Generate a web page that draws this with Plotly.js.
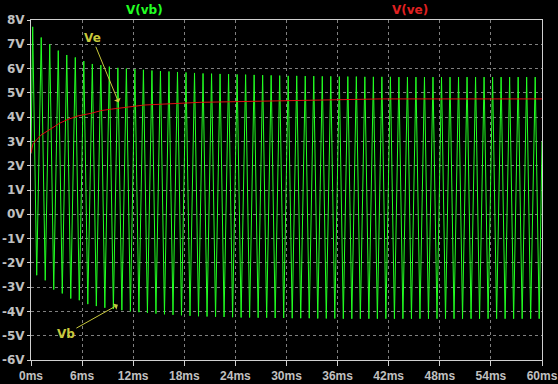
<!DOCTYPE html>
<html>
<head>
<meta charset="utf-8">
<script src="https://cdn.plot.ly/plotly-3.0.1.min.js"></script>
<style>html,body{margin:0;padding:0;background:#000;}#chart{width:558px;height:384px;}</style>
</head>
<body>
<div id="chart"></div>
<script>
// V(vb): per-cycle peaks and troughs (ms, V)
const vbStart = [0, 2.5];
const vbEnd = [60, 3.0];
const vbPeakTimes = [0.2,1.2,2.2,3.2,4.2,5.2,6.2,7.2,8.2,9.2,10.2,11.2,12.2,13.2,14.2,15.2,16.2,17.2,18.2,19.2,20.2,21.2,22.2,23.2,24.2,25.2,26.2,27.2,28.2,29.2,30.2,31.2,32.2,33.2,34.2,35.2,36.2,37.2,38.2,39.2,40.2,41.2,42.2,43.2,44.2,45.2,46.2,47.2,48.2,49.2,50.2,51.2,52.2,53.2,54.2,55.2,56.2,57.2,58.2,59.2];
const vbPeaks = [7.72,7.28,7.0,6.74,6.56,6.46,6.31,6.19,6.14,6.08,6.03,6.0,5.97,5.95,5.92,5.9,5.88,5.86,5.84,5.82,5.8,5.79,5.78,5.77,5.76,5.75,5.74,5.73,5.72,5.71,5.7,5.7,5.69,5.69,5.68,5.68,5.67,5.67,5.67,5.66,5.66,5.66,5.66,5.65,5.65,5.65,5.65,5.65,5.65,5.65,5.65,5.65,5.65,5.65,5.65,5.65,5.65,5.65,5.65,5.65];
const vbTroughTimes = [0.67,1.67,2.67,3.67,4.67,5.67,6.67,7.67,8.67,9.67,10.67,11.67,12.67,13.67,14.67,15.67,16.67,17.67,18.67,19.67,20.67,21.67,22.67,23.67,24.67,25.67,26.67,27.67,28.67,29.67,30.67,31.67,32.67,33.67,34.67,35.67,36.67,37.67,38.67,39.67,40.67,41.67,42.67,43.67,44.67,45.67,46.67,47.67,48.67,49.67,50.67,51.67,52.67,53.67,54.67,55.67,56.67,57.67,58.67,59.67];
const vbTroughs = [-2.51,-2.72,-3.1,-3.26,-3.47,-3.54,-3.7,-3.78,-3.85,-3.9,-3.95,-4.0,-4.03,-4.06,-4.09,-4.12,-4.14,-4.16,-4.18,-4.2,-4.21,-4.22,-4.23,-4.24,-4.25,-4.25,-4.26,-4.26,-4.27,-4.27,-4.28,-4.28,-4.28,-4.29,-4.29,-4.29,-4.3,-4.3,-4.3,-4.3,-4.3,-4.3,-4.3,-4.3,-4.3,-4.3,-4.3,-4.3,-4.3,-4.3,-4.3,-4.3,-4.3,-4.3,-4.3,-4.3,-4.3,-4.3,-4.3,-4.3];

// V(ve)
const veTimes = [0, 0.23, 1.17, 2.38, 3.37, 4.34, 5.52, 7.08, 8.25, 9.43, 11.39, 13.35, 19.84, 31.6, 40.98, 60];
const veValues = [2.52, 2.9, 3.26, 3.54, 3.75, 3.91, 4.05, 4.16, 4.27, 4.33, 4.43, 4.5, 4.61, 4.7, 4.75, 4.75];

const xTickVals = [0,6,12,18,24,30,36,42,48,54,60];
const xTickText = ['0ms','6ms','12ms','18ms','24ms','30ms','36ms','42ms','48ms','54ms','60ms'];
const yTickVals = [8,7,6,5,4,3,2,1,0,-1,-2,-3,-4,-5,-6];
const yTickText = ['8V','7V','6V','5V','4V','3V','2V','1V','0V','-1V','-2V','-3V','-4V','-5V','-6V'];

const vbT = [vbStart[0]], vbV = [vbStart[1]];
for (let i = 0; i < vbPeaks.length; i++) {
  vbT.push(vbPeakTimes[i]); vbV.push(vbPeaks[i]);
  vbT.push(vbTroughTimes[i]); vbV.push(vbTroughs[i]);
}
vbT.push(vbEnd[0]); vbV.push(vbEnd[1]);

const tickFont = {family: 'DejaVu Sans', size: 12, color: '#c0c0c0', weight: 'bold'};
const xTickFont = {family: 'Liberation Sans', size: 12, color: '#c0c0c0', weight: 'bold'};
const annColor = '#c8c83c';

const data = [
  {x: vbT, y: vbV, mode: 'lines', line: {color: '#22ff22', width: 1}, name: 'V(vb)', hoverinfo: 'skip'},
  {x: veTimes, y: veValues, mode: 'lines', line: {color: '#e01010', width: 1, shape: 'linear'}, name: 'V(ve)', hoverinfo: 'skip'}
];

const layout = {
  width: 558, height: 384,
  paper_bgcolor: '#000', plot_bgcolor: '#000',
  margin: {l: 31, r: 16, t: 20, b: 24},
  showlegend: false,
  xaxis: {
    range: [0, 60], tickvals: xTickVals, ticktext: xTickText,
    showgrid: true, gridcolor: '#808080', griddash: '3px,3px', gridwidth: 1,
    showline: true, linecolor: '#d0d0d0', linewidth: 1, mirror: true,
    ticks: 'outside', ticklen: 5, tickcolor: '#d0d0d0', ticklabeloverflow: 'allow',
    tickfont: xTickFont, zeroline: false, fixedrange: true
  },
  yaxis: {
    range: [-6, 8], tickvals: yTickVals, ticktext: yTickText,
    showgrid: true, gridcolor: '#808080', griddash: '3px,3px', gridwidth: 1,
    showline: true, linecolor: '#d0d0d0', linewidth: 1, mirror: true,
    ticks: 'outside', ticklen: 3, tickcolor: '#d0d0d0', ticklabeloverflow: 'allow',
    tickfont: tickFont, zeroline: false, fixedrange: true
  },
  annotations: [
    {text: 'V(vb)', xref: 'paper', yref: 'paper', x: 0.223, xanchor: 'center', y: 1, yshift: 10, yanchor: 'middle', showarrow: false,
     font: {family: 'DejaVu Sans', size: 12, color: '#22ff22', weight: 'bold'}},
    {text: 'V(ve)', xref: 'paper', yref: 'paper', x: 0.742, xanchor: 'center', y: 1, yshift: 10, yanchor: 'middle', showarrow: false,
     font: {family: 'DejaVu Sans', size: 12, color: '#e02020', weight: 'bold'}},
    {text: 'Ve', x: 10.3, y: 4.6, xref: 'x', yref: 'y', axref: 'x', ayref: 'y', ax: 7.2, ay: 7.25,
     showarrow: true, arrowhead: 1, arrowsize: 1.2, arrowwidth: 1, arrowcolor: annColor,
     font: {family: 'DejaVu Sans', size: 12, color: annColor, weight: 'bold'}},
    {text: 'Vb', x: 10.2, y: -3.73, xref: 'x', yref: 'y', axref: 'x', ayref: 'y', ax: 4.1, ay: -4.93,
     showarrow: true, arrowhead: 1, arrowsize: 1.2, arrowwidth: 1, arrowcolor: annColor,
     font: {family: 'DejaVu Sans', size: 12, color: annColor, weight: 'bold'}}
  ]
};

Plotly.newPlot('chart', data, layout, {staticPlot: true, displayModeBar: false});
</script>
</body>
</html>
